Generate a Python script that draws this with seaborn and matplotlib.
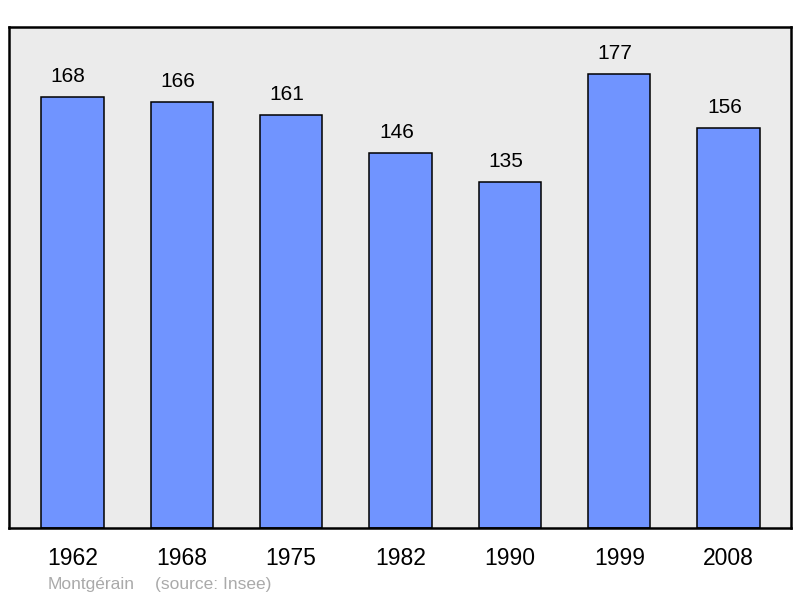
import numpy as np
import pandas as pd
import matplotlib
matplotlib.use("Agg")
import matplotlib.pyplot as plt
import seaborn as sns

years = ["1962", "1968", "1975", "1982", "1990", "1999", "2008"]
population = [168, 166, 161, 146, 135, 177, 156]
commune = "Montgérain"
source = "(source: Insee)"

sns.set_style("white")
plt.rcParams["font.family"] = ["Liberation Sans", "DejaVu Sans"]

df = pd.DataFrame({"year": years, "pop": population})

fig = plt.figure(figsize=(8, 5.98), dpi=100)
ax = fig.add_axes([0.01125, 0.117, 0.9775, 0.838])
ax.set_facecolor("#ebebeb")

sns.barplot(
    data=df, x="year", y="pop", order=years,
    color="#7094ff", saturation=1, width=0.57,
    edgecolor="black", linewidth=1.1, ax=ax,
)
# value labels, a touch left of the bar centre like the original
for p, v in zip(ax.patches, population):
    ax.annotate(str(v), (p.get_x() + p.get_width() / 2, p.get_height()),
                xytext=(-3, 8), textcoords="offset points",
                ha="center", va="bottom", fontsize=15, color="black")

ax.set_ylim(0, 195.3)
ax.set_xlim(-0.58, 6.57)
ax.set_yticks([])
ax.set_xlabel("")
ax.set_ylabel("")
ax.tick_params(axis="x", length=0, pad=14, labelsize=16.5, labelcolor="black")
for s in ax.spines.values():
    s.set_visible(True)
    s.set_color("black")
    s.set_linewidth(1.8)

fig.text(48 / 800, 1 - 585 / 598, commune, fontsize=12.5, color="#aaaaaa", va="center")
fig.text(155 / 800, 1 - 585 / 598, source, fontsize=12.5, color="#aaaaaa", va="center")

fig.savefig("out.png", dpi=100)
